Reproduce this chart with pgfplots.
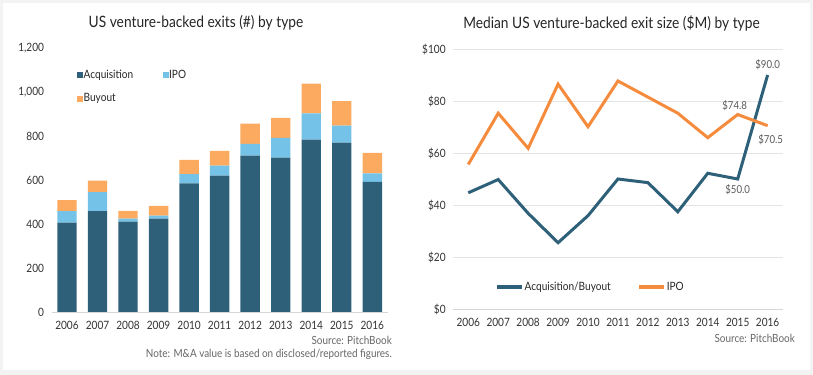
\documentclass[border=0pt]{standalone}
\usepackage{fontspec}
\setmainfont{Lato}[FakeStretch=0.88]
\usepackage{pgfplots}
\pgfplotsset{compat=1.18}
\definecolor{acq}{HTML}{2E6179}
\definecolor{ipo}{HTML}{74C2E8}
\definecolor{buy}{HTML}{FBAA5F}
\definecolor{ipol}{HTML}{F58B3D}
\definecolor{txtc}{HTML}{262626}
\definecolor{tickc}{HTML}{333333}
\definecolor{lblc}{HTML}{595959}
\definecolor{srcc}{HTML}{666666}
\definecolor{gridc}{HTML}{E4E4E4}
\definecolor{axisc}{HTML}{D6D6D6}
\definecolor{bgc}{HTML}{F3F3F3}
\pgfplotsset{
  base/.style={
    scale only axis, anchor=south west, clip=false,
    xmin=-0.5, xmax=10.5, xtick={0,...,10},
    xticklabels={2006,2007,2008,2009,2010,2011,2012,2013,2014,2015,2016},
    axis x line*=bottom, axis y line*=left,
    axis line style={-}, x axis line style={draw=axisc, line width=0.8bp},
    y axis line style={draw=none},
    major tick length=0pt, tick style={draw=none},
    ticklabel style={font=\fontsize{11.5}{13}\selectfont, text=tickc, inner sep=0pt},
    xticklabel style={anchor=north, yshift=-9bp},
    yticklabel style={anchor=east, xshift=-7.5bp},
    /pgf/number format/assume math mode=true,
    legend style={draw=none, fill=none, inner sep=0pt, font=\fontsize{11.5}{13}\selectfont, text=txtc,
      nodes={inner sep=0.5bp}},
    legend cell align=left,
  }
}
\begin{document}
\begin{tikzpicture}
\fill[bgc] (0,0) rectangle (813bp,375bp);
\fill[white] (3bp,5bp) rectangle (810bp,372bp);
% Left chart
\begin{axis}[base, at={(51.7bp,63bp)}, width=335.9bp, height=264bp,
  ymin=0, ymax=1200, ytick={0,200,...,1200},
  /pgf/number format/1000 sep={,},
  ybar stacked, bar width=19.4bp,
  legend columns=2,
  legend image code/.code={\fill[#1] (0bp,-3bp) rectangle (6bp,3bp);},
  legend style={at={(0.0753,0.92)}, anchor=north west, row sep=13bp,
    /tikz/every even column/.append style={column sep=29bp}},
]
\addplot[fill=acq, draw=none] coordinates {(0,406)(1,459)(2,411)(3,424)(4,585)(5,620)(6,711)(7,702)(8,784)(9,770)(10,591)};
\addplot[fill=ipo, draw=none] coordinates {(0,53)(1,86)(2,13)(3,14)(4,42)(5,45)(6,53)(7,89)(8,119)(9,77)(10,39)};
\addplot[fill=buy, draw=none] coordinates {(0,50)(1,52)(2,36)(3,44)(4,64)(5,67)(6,92)(7,91)(8,135)(9,111)(10,93)};
\legend{Acquisition,IPO,Buyout}
\end{axis}
% Right chart
\begin{axis}[base, at={(453.3bp,66bp)}, width=329.3bp, height=260bp,
  ymin=0, ymax=100, ytick={0,20,...,100},
  yticklabel={\$\pgfmathprintnumber{\tick}},
  ymajorgrids, grid style={draw=gridc, line width=0.8bp},
  legend columns=2,
  legend image code/.code={\draw[#1, line width=4bp] (0bp,0bp) -- (25bp,0bp);},
  legend style={at={(0.1266,0.0858)}, anchor=west,
    /tikz/every even column/.append style={column sep=26bp}},
]
\addplot[acq, line width=3bp, mark=none] coordinates {(0,44.7)(1,49.8)(2,36.8)(3,25.5)(4,35.9)(5,50.0)(6,48.6)(7,37.4)(8,52.2)(9,50.0)(10,90.0)};
\addplot[ipol, line width=3bp, mark=none] coordinates {(0,55.6)(1,75.3)(2,61.8)(3,86.5)(4,70.1)(5,87.7)(6,81.5)(7,75.3)(8,65.9)(9,74.8)(10,70.5)};
\legend{Acquisition/Buyout,IPO}
\addplot[draw=none, mark=none, forget plot, point meta=explicit symbolic,
  nodes near coords={\pgfplotspointmeta},
  every node near coord/.style={anchor=south, inner sep=0pt, font=\fontsize{11}{13}\selectfont, text=lblc, yshift=5bp}]
  coordinates {(10,90.0)[\$90.0]};
\addplot[draw=none, mark=none, forget plot, point meta=explicit symbolic,
  nodes near coords={\pgfplotspointmeta},
  every node near coord/.style={anchor=south, inner sep=0pt, font=\fontsize{11}{13}\selectfont, text=lblc, yshift=4bp, xshift=-3bp}]
  coordinates {(9,74.8)[\$74.8]};
\addplot[draw=none, mark=none, forget plot, point meta=explicit symbolic,
  nodes near coords={\pgfplotspointmeta},
  every node near coord/.style={anchor=north, inner sep=0pt, font=\fontsize{11}{13}\selectfont, text=lblc, yshift=-9bp, xshift=3bp}]
  coordinates {(10,70.5)[\$70.5]};
\addplot[draw=none, mark=none, forget plot, point meta=explicit symbolic,
  nodes near coords={\pgfplotspointmeta},
  every node near coord/.style={anchor=north, inner sep=0pt, font=\fontsize{11}{13}\selectfont, text=lblc, yshift=-5bp}]
  coordinates {(9,50.0)[\$50.0]};
\end{axis}
% Titles and sources
\node[font=\fontsize{15.7}{18}\selectfont, text=txtc] at (196bp,352bp) {US venture-backed exits (\#) by type};
\node[font=\fontsize{15.7}{18}\selectfont, text=txtc] at (611.5bp,352bp) {Median US venture-backed exit size (\$M) by type};
\node[anchor=east, font=\fontsize{11.3}{13}\selectfont, text=srcc, inner sep=0pt] at (392bp,34.3bp) {Source: PitchBook};
\node[anchor=east, font=\fontsize{11.3}{13}\selectfont, text=srcc, inner sep=0pt] at (392bp,21bp) {Note: M\&A value is based on disclosed/reported figures.};
\node[anchor=east, font=\fontsize{11.3}{13}\selectfont, text=srcc, inner sep=0pt] at (795bp,37bp) {Source: PitchBook};
\pgfresetboundingbox
\useasboundingbox (0,0) rectangle (813bp,375bp);
\end{tikzpicture}
\end{document}
